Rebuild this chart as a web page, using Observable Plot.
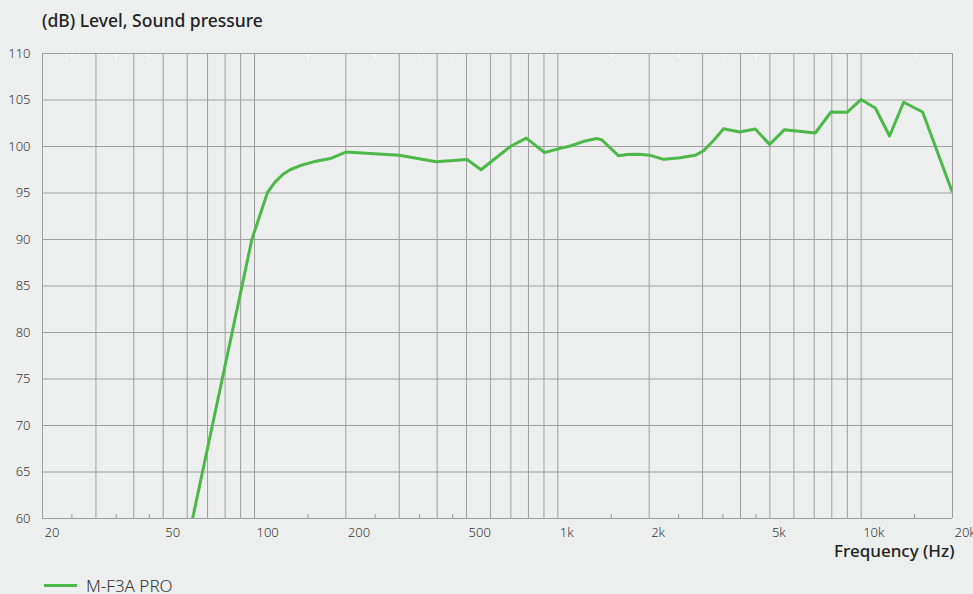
<!DOCTYPE html>
<html>
<head>
<meta charset="utf-8">
<script src="https://cdn.jsdelivr.net/npm/d3@7"></script>
<script src="https://cdn.jsdelivr.net/npm/@observablehq/plot@0.6"></script>
<style>
  html, body { margin: 0; padding: 0; background: #edefee; }
  body { width: 973px; height: 594px; overflow: hidden; position: relative; font-family: "Noto Sans", sans-serif; }
  #title { height: 40px; position: relative; }
  #title span { position: absolute; left: 42px; top: 12px; font-size: 17.5px; line-height: 17px; font-weight: 500; color: #222; white-space: nowrap; }
  #chart { height: 530px; }
  #legend { height: 24px; position: relative; }
  #legend .sw { position: absolute; left: 44px; top: 13.5px; width: 33px; height: 3.5px; background: #4cb847; }
  #legend .lb { position: absolute; left: 86px; top: 6.5px; font-size: 17px; line-height: 17px; font-weight: 300; color: #333; white-space: nowrap; }
</style>
</head>
<body>
<div id="title"><span>(dB) Level, Sound pressure</span></div>
<div id="chart"></div>
<div id="legend"><div class="sw"></div><div class="lb">M-F3A PRO</div></div>
<script>
// Frequency response series (Hz, dB)
const freqHz = [62.5, 98, 110.5, 117, 124.6, 131, 141.5, 156.5, 177.7, 200, 300, 397, 502, 558, 697, 787, 904, 1018, 1099, 1231, 1346, 1398, 1586, 1690, 1845, 2017, 2232, 2532, 2838, 3022, 3262, 3518, 3974, 4477, 4990, 5590, 7058, 7952, 8980, 9987, 11130, 12406, 13800, 15940, 19920];
const levelDb = [60, 90, 95.1, 96.2, 97.05, 97.5, 97.95, 98.35, 98.7, 99.4, 99.05, 98.35, 98.6, 97.5, 100.0, 100.9, 99.35, 99.8, 100.05, 100.6, 100.85, 100.7, 99.0, 99.13, 99.16, 99.05, 98.62, 98.8, 99.05, 99.55, 100.65, 101.9, 101.56, 101.88, 100.23, 101.81, 101.45, 103.71, 103.68, 105.05, 104.14, 101.13, 104.76, 103.71, 95.2];

// Axes
const gridFreqs = [20, 30, 40, 50, 60, 70, 80, 90, 100, 200, 300, 400, 500, 600, 700, 800, 900, 1000, 2000, 3000, 4000, 5000, 6000, 7000, 8000, 9000, 10000, 20000];
const labelFreqs = [20, 50, 100, 200, 500, 1000, 2000, 5000, 10000, 20000];
const minorFreqs = [25, 35, 45, 150, 250, 350, 450, 1500, 2500, 3500, 4500, 15000];
const yTicks = [60, 65, 70, 75, 80, 85, 90, 95, 100, 105, 110];
const seriesName = "M-F3A PRO";
const xTitle = "Frequency (Hz)";

const data = freqHz.map((f, i) => ({ f, db: levelDb[i] }));
const fmt = d => d >= 1000 ? (d / 1000) + "k" : String(d);
const gridColor = "#9e9e9e";

const chart = Plot.plot({
  width: 973,
  height: 530,
  marginTop: 13,
  marginLeft: 42,
  marginRight: 21,
  marginBottom: 52,
  style: { background: "transparent", fontFamily: "'Noto Sans', sans-serif", overflow: "visible" },
  x: { type: "log", domain: [20, 20000], label: null },
  y: { domain: [60, 110], label: null },
  marks: [
    Plot.gridX(gridFreqs, { stroke: gridColor, strokeOpacity: 1 }),
    Plot.gridY(yTicks, { stroke: gridColor, strokeOpacity: 1 }),
    Plot.axisX(minorFreqs, { anchor: "bottom", tickSize: 4, dy: -4, text: null, stroke: "#999", label: null }),
    Plot.axisX(minorFreqs, { anchor: "top", tickSize: 4, dy: 4, text: null, stroke: "#ffffff", label: null }),
    Plot.text(labelFreqs, { x: d => d, text: fmt, frameAnchor: "bottom", lineAnchor: "top", dy: 9, dx: 2, textAnchor: "start", fontSize: 13, fontWeight: 300, fill: "#333" }),
    Plot.axisY(yTicks, { anchor: "left", tickSize: 0, tickPadding: 12, fontSize: 13, fontWeight: 300, fill: "#333", label: null }),
    Plot.line(data, { x: "f", y: "db", stroke: "#4cb847", strokeWidth: 3, strokeLinejoin: "round", clip: true }),
    Plot.text([xTitle], { frameAnchor: "bottom-right", dx: 2, dy: 38, lineAnchor: "bottom", textAnchor: "end", fontSize: 17, fontWeight: 500, fill: "#222" })
  ]
});
document.getElementById("chart").appendChild(chart);
document.querySelector("#legend .lb").textContent = seriesName;
</script>
</body>
</html>
